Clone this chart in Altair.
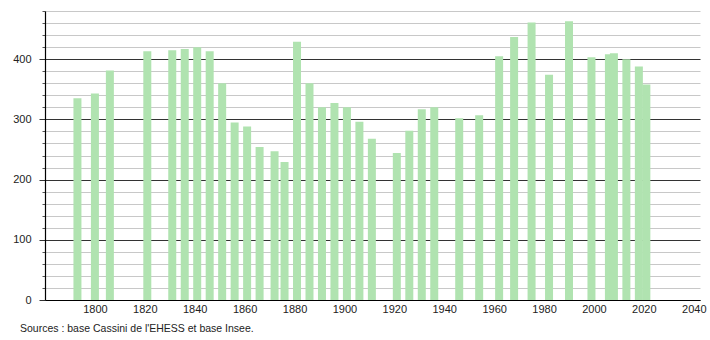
import altair as alt
import pandas as pd

years = [1793, 1800, 1806, 1821, 1831, 1836, 1841, 1846, 1851, 1856, 1861, 1866,
         1872, 1876, 1881, 1886, 1891, 1896, 1901, 1906, 1911, 1921, 1926, 1931,
         1936, 1946, 1954, 1962, 1968, 1975, 1982, 1990, 1999, 2006, 2008, 2013,
         2018, 2021]
population = [335, 343, 381, 413, 415, 417, 420, 413, 360, 295, 288, 254,
              247, 229, 429, 360, 320, 327, 320, 296, 268, 244, 281, 317,
              320, 302, 307, 405, 437, 461, 374, 463, 403, 408, 410, 400,
              388, 358]
x_ticks = list(range(1800, 2041, 20))
y_ticks = list(range(0, 481, 20))
source_text = ["Sources : base Cassini de l'EHESS et base Insee."]

df = pd.DataFrame({"year": years, "pop": population})

FONT = "Liberation Sans"

bars = alt.Chart(df).mark_bar(size=8, color="#b0e3b0").encode(
    x=alt.X("year:Q",
            scale=alt.Scale(domain=[1780, 2042.5], nice=False, zero=False, padding=0),
            axis=alt.Axis(values=x_ticks, format="d", title=None, grid=False,
                          ticks=False, labelPadding=3, labelFontSize=11,
                          labelFont=FONT, labelColor="#222", domainColor="#000",
                          domainWidth=1.2, labelFlush=False)),
    y=alt.Y("pop:Q",
            scale=alt.Scale(domain=[0, 480], nice=False, padding=0),
            axis=alt.Axis(values=y_ticks, title=None, grid=True,
                          gridColor={"condition": {"test": "datum.value % 100 === 0", "value": "#333"}, "value": "#c8c8c8"},
                          gridWidth=1,
                          tickColor={"condition": {"test": "datum.value % 100 === 0", "value": "#333"}, "value": "#555"},
                          tickSize={"condition": {"test": "datum.value % 100 === 0", "value": 6}, "value": 3},
                          labelExpr="datum.value % 100 === 0 ? datum.label : ''",
                          labelPadding=8, labelFontSize=11, labelFont=FONT,
                          labelColor="#222", domainColor="#000", domainWidth=1.2)),
)

src = alt.Chart(pd.DataFrame({"t": source_text})).mark_text(
    align="left", baseline="middle", fontSize=10.5, font=FONT, color="#222"
).encode(text="t:N", x=alt.value(-25), y=alt.value(318))

chart = alt.layer(bars, src).properties(
    width=655, height=289,
    padding={"left": 45, "top": 11, "right": 10, "bottom": 40},
    autosize=alt.AutoSizeParams(type="none"),
    background="white",
).configure_view(stroke=None)

chart.save("out.html", embed_options={"renderer": "svg", "actions": False})
